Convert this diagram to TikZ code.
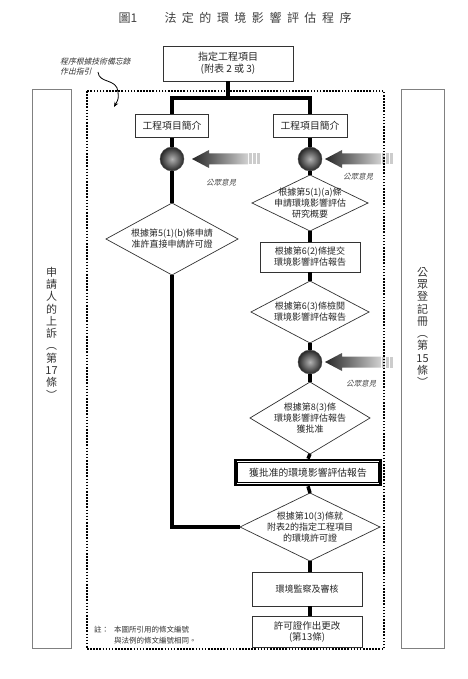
\documentclass[tikz,border=0pt]{standalone}
\usepackage{fontspec}
\setmainfont{Noto Sans CJK TC}
\newfontfamily\slantfont[FakeSlant=0.25]{Noto Sans CJK TC}
\usetikzlibrary{shapes.geometric,arrows.meta}
\tikzset{
 flow/.style={line width=3.5pt, black},
 box/.style={draw=black!80, line width=0.7pt, fill=white, align=center, inner sep=0pt,
   font=\fontsize{9}{11}\selectfont, text=black!85},
 dia/.style={diamond, draw=black!80, line width=0.7pt, fill=white, inner sep=0pt, outer sep=0pt},
 dtext/.style={align=center, font=\fontsize{9}{11}\selectfont, text=black!85},
 ballnode/.style={circle, minimum size=24pt, inner sep=0pt, draw=black!70, line width=0.4pt,
   inner color=black!30, outer color=black!85},
 public/.style={font=\slantfont\fontsize{7.5}{9}\selectfont, text=black!70},
 panel/.style={draw=black!50, line width=0.8pt},
 ptext/.style={align=center, font=\fontsize{11}{12.3}\selectfont, text=black!80},
 notetext/.style={anchor=west, inner sep=0pt, font=\fontsize{7.5}{9}\selectfont, text=black!80},
}
\newcommand\pubarrow[2]{%
  \shade[left color=black!85, right color=black!18]
    (#1,#2) -- ++(17,-9) -- ++(0,3.5) -- ++(39,0) -- ++(0,11) -- ++(-39,0) -- ++(0,3.5) -- cycle;
  \fill[black!20] ({#1+57},{#2-5.5}) rectangle ++(2.5,11);
  \fill[black!20] ({#1+61},{#2-5.5}) rectangle ++(2.5,11);
  \fill[black!20] ({#1+65},{#2-5.5}) rectangle ++(3,11);
}
\begin{document}
\begin{tikzpicture}[x=1pt,y=-1pt]
\useasboundingbox (0,0) rectangle (467,679);
\fill[white] (0,0) rectangle (467,679);

% title
\node[font=\fontsize{12}{14}\selectfont, text=black!75] (ttl1) at (128,18) {圖1};
\node[font=\fontsize{12}{14}\selectfont, text=black!75] (ttl2) at (258,18)
 {法\hspace{5.5pt}定\hspace{5.5pt}的\hspace{5.5pt}環\hspace{5.5pt}境\hspace{5.5pt}影\hspace{5.5pt}響\hspace{5.5pt}評\hspace{5.5pt}估\hspace{5.5pt}程\hspace{5.5pt}序};

% side panels
\draw[panel] (32,89) rectangle (71,648);
\draw[panel] (401,89) rectangle (444,648);
\node[ptext] (lpt) at (51.5,333) {申\\請\\人\\的\\上\\訴\\︵\\第\\17\\條\\︶};
\node[ptext] (rpt) at (422.5,327) {公\\眾\\登\\記\\冊\\︵\\第\\15\\條\\︶};

% public opinion arrows
\pubarrow{192}{159}
\pubarrow{325}{159}
\pubarrow{325}{362}

% dotted frame
\draw[line width=1.6pt, dash pattern=on 1.6pt off 1.5pt] (87,91) rectangle (384,649);

% annotation
\node[anchor=west, inner sep=0pt, align=left, font=\slantfont\fontsize{7.8}{10}\selectfont, text=black!80] (anno) at (60,67) {程序根據技術備忘錄\\作出指引};
\coordinate (annotip) at (114,107);
\draw[line width=0.8pt, -{Stealth[length=5pt,width=4pt]}] (98,72) .. controls (99,84) and (117,78) .. (118,92) .. controls (118.5,99) .. (annotip);

% top box
\node[box, minimum width=130pt, minimum height=35pt, font=\fontsize{10}{12}\selectfont] (top) at (228,63.5) {指定工程項目\\(附表 2 或 3)};
\coordinate (jl) at (172,98);
\coordinate (jr) at (310,98);

% left column
\node[box, minimum width=73pt, minimum height=23pt, font=\fontsize{9.8}{11}\selectfont] (lb) at (172,126) {工程項目簡介};
\node[ballnode] (lc) at (172,159) {};
\node[dia, minimum width=132pt, minimum height=72pt] (ld) at (172,239) {};
\node[dtext] (ldt) at (ld.center) {根據第5(1)(b)條申請\\准許直接申請許可證};

% right column
\node[box, minimum width=74pt, minimum height=23pt, font=\fontsize{9.8}{11}\selectfont] (rb) at (310,126) {工程項目簡介};
\node[ballnode] (rc1) at (310,159) {};
\node[dia, minimum width=116pt, minimum height=56pt] (rd1) at (310,203) {};
\node[dtext] (rd1t) at (rd1.center) {根據第5(1)(a)條\\申請環境影響評估\\研究概要};
\node[box, minimum width=100pt, minimum height=30pt] (rb62) at (310,257) {根據第6(2)條提交\\環境影響評估報告};
\node[dia, minimum width=118pt, minimum height=62pt] (rd63) at (310,312) {};
\node[dtext] (rd63t) at (rd63.center) {根據第6(3)條檢閱\\環境影響評估報告};
\node[ballnode] (rc3) at (310,362) {};
\node[dia, minimum width=120pt, minimum height=72pt] (rd83) at (310,418) {};
\node[dtext] (rd83t) at (rd83.center) {根據第8(3)條\\環境影響評估報告\\獲批准};
\node[draw=black, line width=2.6pt, fill=white, minimum width=145pt, minimum height=25pt, inner sep=0pt,
  font=\fontsize{9.8}{11}\selectfont, text=black!85] (dbl) at (308,472.5) {獲批准的環境影響評估報告};
\draw[line width=0.7pt] ([shift={(3.6,3.6)}]dbl.north west) rectangle ([shift={(-3.6,-3.6)}]dbl.south east);
\node[dia, minimum width=140pt, minimum height=68pt] (rd103) at (310,527) {};
\node[dtext] (rd103t) at (rd103.center) {根據第10(3)條就\\附表2的指定工程項目\\的環境許可證};
\node[box, minimum width=110pt, minimum height=34pt] (mon) at (307,589) {環境監察及審核};
\node[box, minimum width=110pt, minimum height=31pt, font=\fontsize{9.5}{11}\selectfont] (chg) at (307,631.5) {許可證作出更改\\(第13條)};

% public opinion labels
\node[public] (pl1) at (221,183) {公眾意見};
\node[public] (pr1) at (358,177) {公眾意見};
\node[public] (pr3) at (361,384) {公眾意見};

% connectors
\draw[flow] (top.south) -- (top.south |- jl);
\draw[flow, line join=miter] (lb.north) -- (jl) -- (jr) -- (rb.north);
\draw[flow] (lb.south) -- (lc.north);
\draw[flow] (lc.south) -- (ld.north);
\draw[flow, line join=miter] (ld.south) |- (rd103.west);
\draw[flow] (rb.south) -- (rc1.north);
\draw[flow] (rc1.south) -- (rd1.north);
\draw[flow] (rd1.south) -- (rb62.north);
\draw[flow] (rb62.south) -- (rd63.north);
\draw[flow] (rd63.south) -- (rc3.north);
\draw[flow] (rc3.south) -- (rd83.north);
\draw[flow] (rd83.south) -- (dbl.north);
\draw[flow] (dbl.south) -- (rd103.north);
\draw[flow] (rd103.south) -- (rd103.south |- mon.north);
\draw[flow] (mon.south -| rd103.south) -- (rd103.south |- chg.north);

% note
\node[notetext] (n1) at (94,630) {註：};
\node[notetext] (n2) at (114,630) {本圖所引用的條文編號};
\node[notetext] (n3) at (114,640.5) {與法例的條文編號相同。};
\end{tikzpicture}
\end{document}
